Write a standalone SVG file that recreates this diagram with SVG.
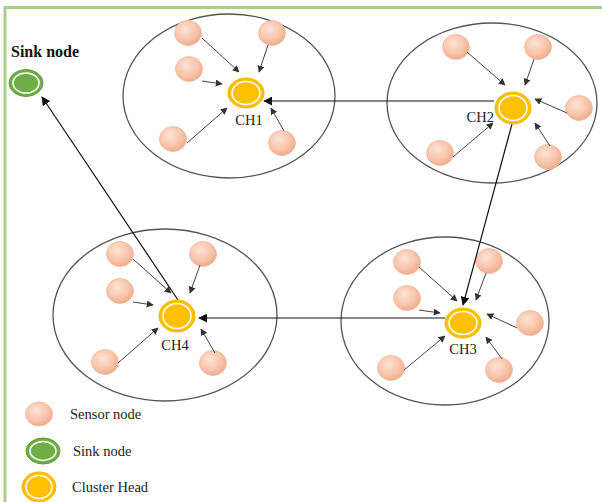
<svg xmlns="http://www.w3.org/2000/svg" width="602" height="502" viewBox="0 0 602 502">
  <defs>
    <radialGradient id="peach" cx="0.4" cy="0.35" r="0.7">
      <stop offset="0" stop-color="#fde3d6"/>
      <stop offset="0.6" stop-color="#f7c4ab"/>
      <stop offset="1" stop-color="#eea888"/>
    </radialGradient>
    <marker id="tip" viewBox="0 0 10 10" refX="9" refY="5" markerWidth="7" markerHeight="7" markerUnits="userSpaceOnUse" orient="auto">
      <path d="M0,0 L10,5 L0,10 z" fill="#333"/>
    </marker>
    <marker id="tipBig" viewBox="0 0 10 10" refX="9" refY="5" markerWidth="9" markerHeight="9" markerUnits="userSpaceOnUse" orient="auto">
      <path d="M0,0 L10,5 L0,10 z" fill="#111"/>
    </marker>
  </defs>
  <style>
    .frame { stroke: #a8d08d; stroke-width: 3; fill: none; }
    .cluster { fill: none; stroke: #555; stroke-width: 1.3; }
    .sensor { fill: url(#peach); stroke: #f0b89c; stroke-width: 0.8; }
    .ch { fill: #ffc000; stroke: #f5b400; stroke-width: 1; }
    .sink { fill: #70ad47; stroke: #5f9e3a; stroke-width: 1; }
    .ring { fill: none; stroke: #ffffff; stroke-width: 1.5; }
    .lbl { font-family: "Liberation Serif", "Times New Roman", serif; font-size: 14.5px; fill: #222; }
    .feed { stroke: #444; stroke-width: 1; fill: none; marker-end: url(#tip); }
    .link { stroke: #111; stroke-width: 1.2; fill: none; marker-end: url(#tipBig); }
  </style>

  <rect width="602" height="502" fill="#ffffff"/>
  <path class="frame" d="M5,502 L5,7.5 L602,7.5"/>

  <!-- cluster regions -->
  <g id="clusters">
    <ellipse id="cluster1" class="cluster" cx="229" cy="96" rx="106" ry="82"/>
    <ellipse id="cluster2" class="cluster" cx="492" cy="103" rx="105" ry="80"/>
    <ellipse id="cluster3" class="cluster" cx="445" cy="321" rx="104" ry="84"/>
    <ellipse id="cluster4" class="cluster" cx="165" cy="315" rx="112" ry="86"/>
  </g>

  <!-- sensor nodes -->
  <g id="sensors">
    <ellipse class="sensor" cx="188" cy="33" rx="13.5" ry="12.5"/>
    <ellipse class="sensor" cx="272" cy="33" rx="13.5" ry="12.5"/>
    <ellipse class="sensor" cx="189" cy="69" rx="13.5" ry="12.5"/>
    <ellipse class="sensor" cx="173" cy="139" rx="13.5" ry="12.5"/>
    <ellipse class="sensor" cx="282" cy="143" rx="13.5" ry="12.5"/>

    <ellipse class="sensor" cx="456" cy="47" rx="13.5" ry="12.5"/>
    <ellipse class="sensor" cx="538" cy="47" rx="13.5" ry="12.5"/>
    <ellipse class="sensor" cx="579" cy="108" rx="13.5" ry="12.5"/>
    <ellipse class="sensor" cx="440" cy="153" rx="13.5" ry="12.5"/>
    <ellipse class="sensor" cx="548" cy="157" rx="13.5" ry="12.5"/>

    <ellipse class="sensor" cx="407" cy="262" rx="13.5" ry="12.5"/>
    <ellipse class="sensor" cx="489" cy="261" rx="13.5" ry="12.5"/>
    <ellipse class="sensor" cx="407" cy="298" rx="13.5" ry="12.5"/>
    <ellipse class="sensor" cx="530" cy="323" rx="13.5" ry="12.5"/>
    <ellipse class="sensor" cx="391" cy="368" rx="13.5" ry="12.5"/>
    <ellipse class="sensor" cx="499" cy="370" rx="13.5" ry="12.5"/>

    <ellipse class="sensor" cx="120" cy="254" rx="13.5" ry="12.5"/>
    <ellipse class="sensor" cx="203" cy="254" rx="13.5" ry="12.5"/>
    <ellipse class="sensor" cx="120" cy="291" rx="13.5" ry="12.5"/>
    <ellipse class="sensor" cx="105" cy="362" rx="13.5" ry="12.5"/>
    <ellipse class="sensor" cx="213" cy="363" rx="13.5" ry="12.5"/>
  </g>

  <!-- connectors -->
  <g id="connectors">
    <!-- sensors to CH1 -->
    <line class="feed" x1="202" y1="38" x2="239" y2="72"/>
    <line class="feed" x1="268" y1="45" x2="259" y2="72"/>
    <line class="feed" x1="202" y1="81" x2="222" y2="84"/>
    <line class="feed" x1="187" y1="143" x2="227" y2="108"/>
    <line class="feed" x1="284" y1="131" x2="271" y2="108"/>
    <!-- sensors to CH2 -->
    <line class="feed" x1="467" y1="52" x2="505" y2="85"/>
    <line class="feed" x1="534" y1="59" x2="525" y2="85"/>
    <line class="feed" x1="567" y1="113" x2="535" y2="99"/>
    <line class="feed" x1="453" y1="157" x2="493" y2="123"/>
    <line class="feed" x1="550" y1="146" x2="535" y2="123"/>
    <!-- sensors to CH3 -->
    <line class="feed" x1="419" y1="267" x2="457" y2="301"/>
    <line class="feed" x1="486" y1="273" x2="476" y2="300"/>
    <line class="feed" x1="419" y1="310" x2="440" y2="313"/>
    <line class="feed" x1="517" y1="328" x2="487" y2="314"/>
    <line class="feed" x1="404" y1="370" x2="445" y2="336"/>
    <line class="feed" x1="502" y1="359" x2="486" y2="337"/>
    <!-- sensors to CH4 -->
    <line class="feed" x1="133" y1="259" x2="171" y2="293"/>
    <line class="feed" x1="200" y1="265" x2="190" y2="293"/>
    <line class="feed" x1="133" y1="302" x2="153" y2="305"/>
    <line class="feed" x1="118" y1="363" x2="158" y2="328"/>
    <line class="feed" x1="215" y1="353" x2="201" y2="329"/>
    <!-- cluster head links -->
    <line class="link" x1="494" y1="101" x2="264" y2="101"/>
    <line class="link" x1="512" y1="124" x2="463" y2="305"/>
    <line class="link" x1="445" y1="318" x2="199" y2="318"/>
    <line class="link" x1="178" y1="300" x2="42" y2="97"/>
  </g>

  <!-- cluster heads -->
  <g id="ch1">
    <ellipse class="ch" cx="246" cy="93" rx="18" ry="15"/>
    <ellipse class="ring" cx="246" cy="93" rx="14" ry="11.5"/>
    <text class="lbl" x="249" y="125" text-anchor="middle">CH1</text>
  </g>
  <g id="ch2">
    <ellipse class="ch" cx="513" cy="108" rx="18" ry="16"/>
    <ellipse class="ring" cx="513" cy="108" rx="14" ry="12.5"/>
    <text class="lbl" x="494" y="122" text-anchor="end">CH2</text>
  </g>
  <g id="ch3">
    <ellipse class="ch" cx="463" cy="323" rx="18" ry="15"/>
    <ellipse class="ring" cx="463" cy="323" rx="14" ry="11.5"/>
    <text class="lbl" x="463" y="354" text-anchor="middle">CH3</text>
  </g>
  <g id="ch4">
    <ellipse class="ch" cx="177" cy="316" rx="18" ry="16"/>
    <ellipse class="ring" cx="177" cy="316" rx="14" ry="12.5"/>
    <text class="lbl" x="175" y="350" text-anchor="middle">CH4</text>
  </g>

  <!-- sink -->
  <g id="sink">
    <text x="11" y="57" font-family="'Liberation Serif', 'Times New Roman', serif" font-size="16" font-weight="bold" fill="#111">Sink node</text>
    <ellipse class="sink" cx="26" cy="83" rx="17" ry="13.5"/>
    <ellipse class="ring" cx="26" cy="83" rx="13" ry="10"/>
  </g>

  <!-- legend -->
  <g id="legend">
    <ellipse class="sensor" cx="39" cy="414" rx="13.5" ry="12"/>
    <text class="lbl" x="70" y="419">Sensor node</text>
    <ellipse class="sink" cx="43" cy="451" rx="17" ry="13"/>
    <ellipse class="ring" cx="43" cy="451" rx="13" ry="9.5"/>
    <text class="lbl" x="73" y="456">Sink node</text>
    <ellipse class="ch" cx="39" cy="487" rx="17" ry="15"/>
    <ellipse class="ring" cx="39" cy="487" rx="13" ry="11.5"/>
    <text class="lbl" x="72" y="492">Cluster Head</text>
  </g>
</svg>
